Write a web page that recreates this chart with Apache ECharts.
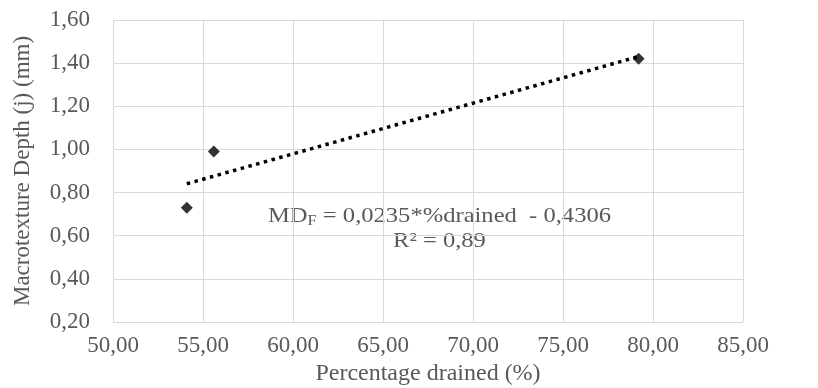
<!DOCTYPE html>
<html>
<head>
<meta charset="utf-8">
<script src="https://cdn.jsdelivr.net/npm/echarts@6/dist/echarts.min.js"></script>
<style>
  html, body { margin: 0; padding: 0; background: #fff; }
  #chart { width: 818px; height: 388px; }
</style>
</head>
<body>
<div id="chart"></div>
<script>
// measured points
var drained = [54.1, 55.6, 79.2]
var depth = [0.73, 0.99, 1.42]

// trendline as printed on the chart
var slope = 0.0235
var intercept = -0.4306
var r2 = '0,89'

var xTicks = { min: 50, max: 85, interval: 5 }
var yTicks = { min: 0.2, max: 1.6, interval: 0.2 }

var font = '"Liberation Serif", "Times New Roman", serif'
var grey = '#595959'

function comma (v, d) {
  return v.toFixed(d).replace('.', ',')
}

var points = drained.map(function (x, i) { return [x, depth[i]] })
var xLo = Math.min.apply(null, drained)
var xHi = Math.max.apply(null, drained)
var trend = [[xLo, slope * xLo + intercept], [xHi, slope * xHi + intercept]]

var chart = echarts.init(document.getElementById('chart'))
chart.setOption({
  animation: false,
  grid: { left: 113, right: 75, top: 20, bottom: 66, containLabel: false, outerBoundsMode: 'none' },
  xAxis: {
    type: 'value',
    min: xTicks.min,
    max: xTicks.max,
    interval: xTicks.interval,
    name: 'Percentage drained (%)',
    nameLocation: 'middle',
    nameGap: 39,
    nameTextStyle: { color: grey, fontFamily: font, fontSize: 24 },
    axisLine: { show: false },
    axisTick: { show: false },
    axisLabel: {
      color: grey, fontFamily: font, fontSize: 23, margin: 12,
      formatter: function (v) { return comma(v, 2) }
    },
    splitLine: { show: true, lineStyle: { color: '#d9d9d9', width: 1 } }
  },
  yAxis: {
    type: 'value',
    min: yTicks.min,
    max: yTicks.max,
    interval: yTicks.interval,
    name: 'Macrotexture Depth (j) (mm)',
    nameLocation: 'middle',
    nameGap: 79,
    nameTextStyle: { color: grey, fontFamily: font, fontSize: 23 },
    axisLine: { show: false },
    axisTick: { show: false },
    axisLabel: {
      color: grey, fontFamily: font, fontSize: 23, margin: 23,
      formatter: function (v) { return comma(v, 2) }
    },
    splitLine: { show: true, lineStyle: { color: '#d9d9d9', width: 1 } }
  },
  series: [
    {
      type: 'line',
      data: trend,
      symbol: 'none',
      lineStyle: { color: '#000', width: 3.5, type: [3.5, 4.5] },
      z: 2
    },
    {
      type: 'scatter',
      data: points,
      symbol: 'diamond',
      symbolSize: [12, 12],
      itemStyle: { color: '#000' },
      z: 3
    }
  ],
  graphic: [
    {
      type: 'text',
      x: 268,
      y: 204,
      scaleX: 1.17,
      style: {
        text: '{a|MD}{s|F}{a| = ' + comma(slope, 4) + '*%drained  - ' + comma(-intercept, 4) + '}',
        rich: {
          a: { fontFamily: font, fontSize: 21, fill: grey, color: grey },
          s: { fontFamily: font, fontSize: 14, fill: grey, color: grey, padding: [10, 0, 0, 0] }
        }
      }
    },
    {
      type: 'text',
      x: 393,
      y: 231,
      scaleX: 1.17,
      style: {
        text: 'R² = ' + r2,
        fontFamily: font,
        fontSize: 21,
        fill: grey
      }
    }
  ]
})
</script>
</body>
</html>
